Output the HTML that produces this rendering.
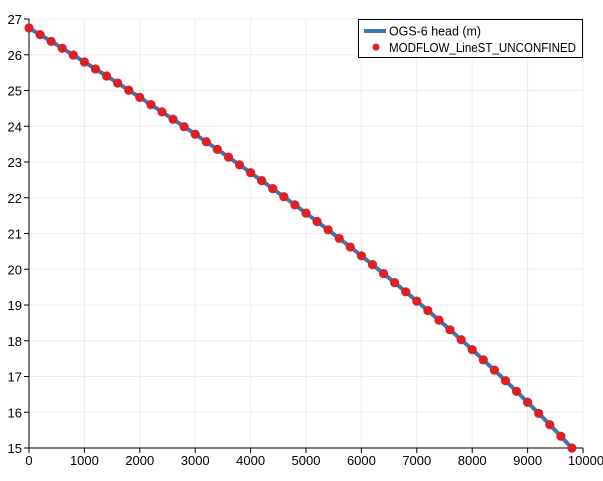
<!DOCTYPE html>
<html><head><meta charset="utf-8"><style>
body{margin:0;background:#fff;width:603px;height:476px;overflow:hidden}
text{font-family:"Liberation Sans","DejaVu Sans",sans-serif;font-size:13px;fill:#000}
</style></head><body>
<svg id="s" width="603" height="476" xmlns="http://www.w3.org/2000/svg"></svg>
<script>
const s=document.getElementById('s');
const X=v=>29+v*0.0554, Y=v=>19+(27-v)*35.75;
let h='';
for(let i=0;i<=10;i++){const x=X(i*1000);
 h+=`<line x1="${x}" y1="19" x2="${x}" y2="448" stroke="#ececec"/>`;
 h+=`<line x1="${x}" y1="448" x2="${x}" y2="453" stroke="#000"/>`;
 h+=`<text x="${i==10?x+3:x}" y="465" text-anchor="middle">${i*1000}</text>`;}
for(let v=15;v<=27;v++){const y=Y(v);
 h+=`<line x1="29" y1="${y}" x2="583" y2="${y}" stroke="#ececec"/>`;
 h+=`<line x1="24" y1="${y}" x2="29" y2="${y}" stroke="#000"/>`;
 h+=`<text x="22" y="${y+5}" text-anchor="end">${v}</text>`;}
h+=`<line x1="29" y1="19" x2="29" y2="448" stroke="#000"/><line x1="29" y1="448" x2="583" y2="448" stroke="#000"/>`;
const f=x=>Math.sqrt(26.75*26.75-0.05006*x);
let p='';for(let x=0;x<=9800;x+=50)p+=(p?'L':'M')+X(x).toFixed(1)+','+Y(f(x)).toFixed(1);
h+=`<path d="${p}" fill="none" stroke="#3a78b0" stroke-width="4"/>`;
for(let x=0;x<=9800;x+=200)h+=`<circle cx="${X(x)}" cy="${Y(f(x))}" r="4.6" fill="#dd1f26"/>`;
h+=`<rect x="358.5" y="19.5" width="224" height="38" fill="#fff" stroke="#000"/>`;
h+=`<line x1="364" y1="31" x2="386" y2="31" stroke="#3a78b0" stroke-width="4"/><text x="389" y="35.5" font-size="12.5" textLength="92" lengthAdjust="spacingAndGlyphs">OGS-6 head (m)</text>`;
h+=`<circle cx="376" cy="47" r="3.5" fill="#dd1f26"/><text x="389" y="52" font-size="12.5" textLength="187" lengthAdjust="spacingAndGlyphs">MODFLOW_LineST_UNCONFINED</text>`;
s.innerHTML=h;
</script>
</body></html>
